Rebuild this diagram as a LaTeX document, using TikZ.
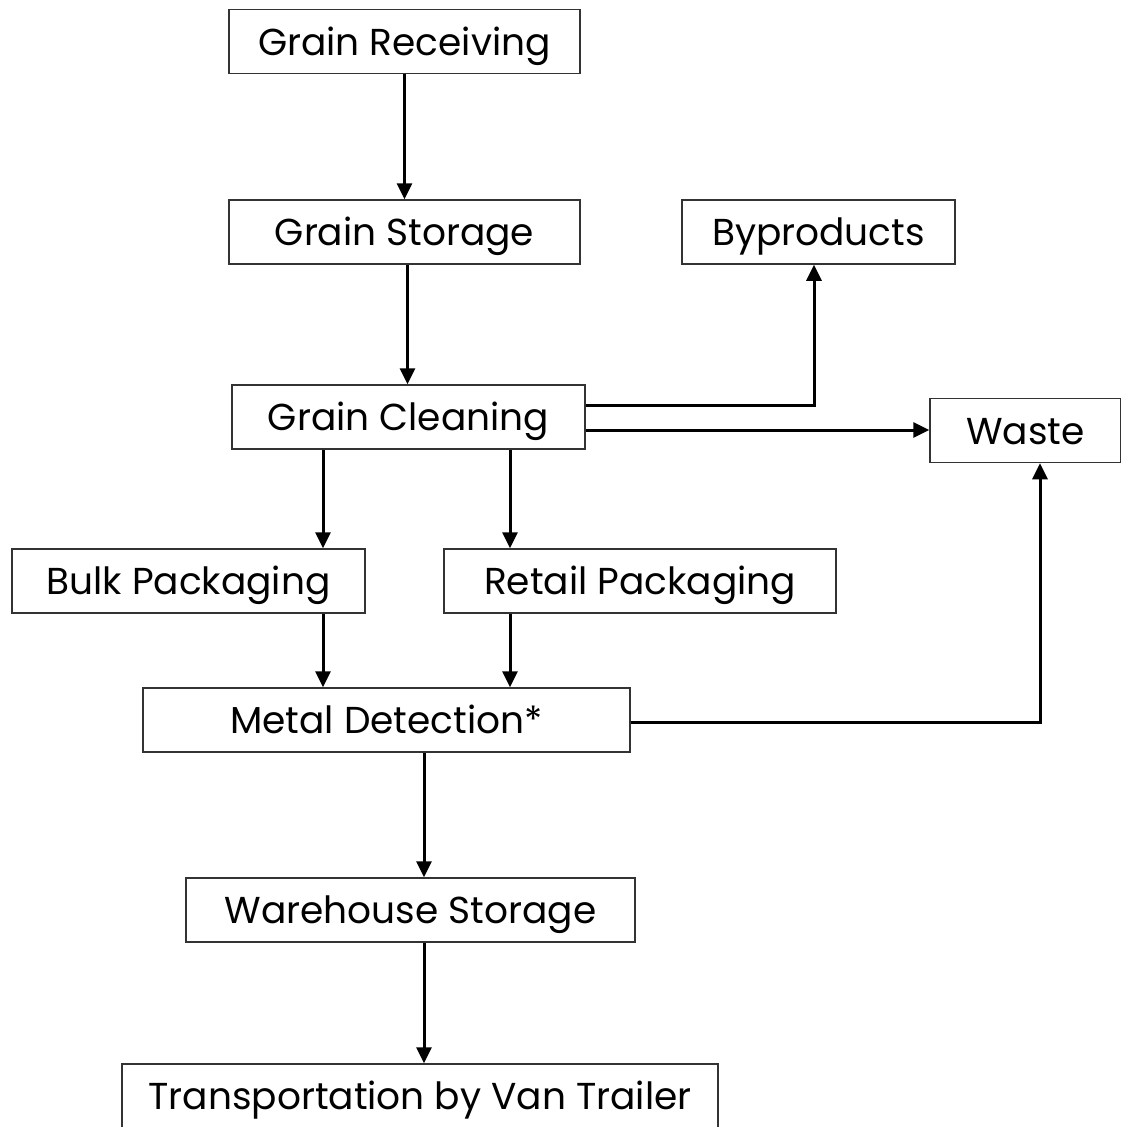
\documentclass[tikz,border=0pt]{standalone}
\usepackage{fontspec}
\setmainfont{Poppins}
\usetikzlibrary{arrows.meta}

\tikzset{
  stepbox/.style={draw=black!80,line width=1.5pt,inner sep=0pt,minimum height=64pt,
    text height=27pt,text depth=0pt,font=\fontsize{37.5}{42}\selectfont},
  flow/.style={line width=3pt,-{Triangle[width=15pt,length=16pt]}}
}

\begin{document}
\begin{tikzpicture}[x=1pt,y=-1pt]
\useasboundingbox (0,0) rectangle (1121,1127);
% process boxes
\node[stepbox,minimum width=351pt] (recv) at (404.5,41.5) {Grain Receiving};
\node[stepbox,minimum width=351pt] (stor) at (404.5,232) {Grain Storage};
\node[stepbox,minimum width=273pt] (byp) at (818.5,232) {Byproducts};
\node[stepbox,minimum width=353pt] (clean) at (408.5,417) {Grain Cleaning};
\node[stepbox,minimum width=191pt] (waste) at (1025.5,430.5) {Waste};
\node[stepbox,minimum width=353pt] (bulk) at (188.5,581) {Bulk Packaging};
\node[stepbox,minimum width=392pt] (retail) at (640,581) {Retail Packaging};
\node[stepbox,minimum width=487pt] (metal) at (386.5,720) {Metal Detection*};
\node[stepbox,minimum width=449pt] (wareh) at (410.5,910) {Warehouse Storage};
\node[stepbox,minimum width=596pt] (trans) at (420,1096) {Transportation by Van Trailer};
% connectors
\draw[flow] (recv.south) -- (recv.south |- stor.north);
\draw[flow] ([xshift=3pt]stor.south) -- ([xshift=3pt]stor.south |- clean.north);
\draw[flow] ([yshift=12pt]clean.east) -| ([xshift=-4.5pt]byp.south);
\draw[flow] ([yshift=-13pt]clean.east) -- ([yshift=-13pt]clean.east -| waste.west);
\draw[flow] ([xshift=-85.5pt]clean.south) -- ([xshift=-85.5pt]clean.south |- bulk.north);
\draw[flow] ([xshift=101.5pt]clean.south) -- ([xshift=101.5pt]clean.south |- retail.north);
\draw[flow] ([xshift=134.5pt]bulk.south) -- ([xshift=134.5pt]bulk.south |- metal.north);
\draw[flow] ([xshift=-130pt]retail.south) -- ([xshift=-130pt]retail.south |- metal.north);
\draw[flow] ([yshift=-2pt]metal.east) -| ([xshift=14.5pt]waste.south);
\draw[flow] ([xshift=37.5pt]metal.south) -- ([xshift=37.5pt]metal.south |- wareh.north);
\draw[flow] ([xshift=13.5pt]wareh.south) -- ([xshift=13.5pt]wareh.south |- trans.north);
\end{tikzpicture}
\end{document}
